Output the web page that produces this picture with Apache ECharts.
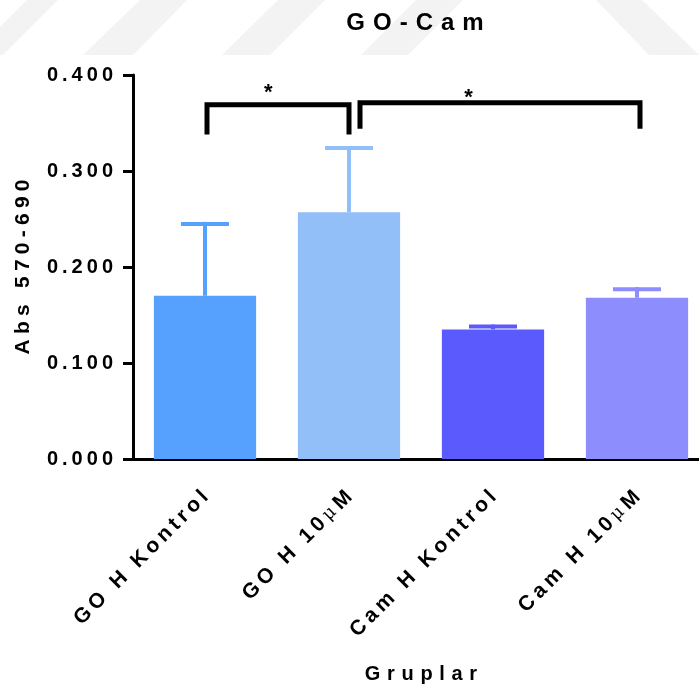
<!DOCTYPE html>
<html>
<head>
<meta charset="utf-8">
<script src="https://cdn.jsdelivr.net/npm/echarts@6/dist/echarts.min.js"></script>
<style>html,body{margin:0;padding:0;background:#fff}#c{width:699px;height:690px}</style>
</head>
<body>
<div id="c"></div>
<script>
// ---- data ----
var categories = ['GO H Kontrol', 'GO H 10\u03bcM', 'Cam H Kontrol', 'Cam H 10\u03bcM'];
var means = [0.170, 0.257, 0.135, 0.168];
var sems = [0.077, 0.069, 0.005, 0.011];
var barColors = ['#55A1FD', '#93BFF9', '#5A5AFD', '#8D8DFD'];
var yTicks = [0, 0.1, 0.2, 0.3, 0.4];
// significance brackets: [fromIndex, toIndex, topValue, bottomValue]
var brackets = [[0, 1, 0.369, 0.338], [1, 3, 0.371, 0.344]];
var bracketLabels = ['*', '*'];
var starValues = [0.381, 0.376];

function spaced(s, sep) {
  return s.split('').join(sep);
}
var SEP = '\u2009';
var FONT = '"Liberation Sans", Arial, sans-serif';

var chart = echarts.init(document.getElementById('c'), null, {renderer: 'canvas'});

var bracketOffsets = [[2, 0], [11, 3]];
var starFrac = [0.44, 0.83];

// faint background watermark stripes (decoration)
var wmFill = '#f3f3f3';
var wm = [
  [[27, 0], [58, 0], [3, 55], [0, 55], [0, 27]],
  [[140, 0], [187, 0], [133, 55], [83, 55]],
  [[278, 0], [325, 0], [270, 55], [222, 55]],
  [[416, 0], [463, 0], [408, 55], [361, 55]],
  [[596, 0], [642, 0], [699, 55], [649, 55]]
];

function catLabel(v) {
  return v.split('').map(function (ch) {
    return ch === '\u03bc' ? '{m|\u03bc}' : ch;
  }).join(SEP);
}

var option = {
  backgroundColor: '#fff',
  animation: false,
  graphic: wm.map(function (pts) {
    return {type: 'polygon', shape: {points: pts}, style: {fill: wmFill}, z: -10, silent: true};
  }),
  title: {
    text: spaced('GO-Cam', '\u2004'),
    left: 410,
    top: 6,
    textAlign: 'center',
    textStyle: {fontFamily: FONT, fontWeight: 'bold', fontSize: 24, color: '#000'}
  },
  grid: {left: 133, top: 75, width: 576, height: 384, containLabel: false, outerBoundsMode: 'none'},
  xAxis: {
    type: 'category',
    data: categories,
    axisLine: {lineStyle: {color: '#000', width: 3}},
    axisTick: {alignWithLabel: true, length: 10, lineStyle: {color: '#000', width: 3}},
    axisLabel: {
      rotate: 45, margin: 35, interval: 0,
      fontFamily: FONT, fontWeight: 'bold', fontSize: 21, color: '#000',
      formatter: catLabel,
      rich: {m: {fontFamily: '"DejaVu Serif", serif', fontWeight: 'normal', fontSize: 18, color: '#000'}}
    },
    name: spaced('Gruplar', '\u2004'),
    nameLocation: 'middle',
    nameGap: 205,
    nameTextStyle: {fontFamily: FONT, fontWeight: 'bold', fontSize: 20, color: '#000'}
  },
  yAxis: {
    type: 'value',
    min: yTicks[0], max: yTicks[yTicks.length - 1], interval: 0.1,
    splitLine: {show: false},
    axisLine: {show: true, lineStyle: {color: '#000', width: 3}},
    axisTick: {show: true, length: 10, lineStyle: {color: '#000', width: 3}},
    axisLabel: {
      margin: 20,
      fontFamily: FONT, fontWeight: 'bold', fontSize: 20, color: '#000',
      formatter: function (v) { return spaced(v.toFixed(3), SEP); }
    },
    name: spaced('Abs 570-690', '\u2005'),
    nameLocation: 'middle',
    nameRotate: 90,
    nameGap: 99,
    nameTextStyle: {fontFamily: FONT, fontWeight: 'bold', fontSize: 21, color: '#000'}
  },
  series: [
    {
      type: 'bar',
      barWidth: '71%',
      data: means.map(function (v, i) { return {value: v, itemStyle: {color: barColors[i]}}; }),
      z: 2
    },
    {
      type: 'custom',
      data: means.map(function (v, i) { return [i, v, sems[i]]; }),
      z: 3,
      renderItem: function (params, api) {
        var i = api.value(0);
        var p0 = api.coord([i, api.value(1)]);
        var p1 = api.coord([i, api.value(1) + api.value(2)]);
        var col = barColors[params.dataIndex];
        return {
          type: 'group',
          children: [
            {type: 'rect', shape: {x: p0[0] - 2, y: p1[1], width: 4, height: p0[1] - p1[1]}, style: {fill: col}},
            {type: 'rect', shape: {x: p0[0] - 24, y: p1[1], width: 48, height: 4}, style: {fill: col}}
          ]
        };
      }
    },
    {
      type: 'custom',
      data: brackets.map(function (b, i) { return [b[0], b[1], b[2], b[3], starValues[i]]; }),
      z: 4,
      renderItem: function (params, api) {
        var k = params.dataIndex;
        var a = api.coord([api.value(0), api.value(2)]);
        var b = api.coord([api.value(1), api.value(2)]);
        var bottom = api.coord([api.value(0), api.value(3)])[1];
        var x1 = a[0] + bracketOffsets[k][0];
        var x2 = b[0] + bracketOffsets[k][1];
        var band = api.size([1, 0])[0];
        var s = api.coord([api.value(0), api.value(4)]);
        return {
          type: 'group',
          children: [
            {type: 'polyline', shape: {points: [[x1, bottom], [x1, a[1]], [x2, a[1]], [x2, bottom]]},
             style: {stroke: '#000', lineWidth: 5, fill: null, lineJoin: 'miter', lineCap: 'butt'}},
            {type: 'text', style: {text: bracketLabels[k], x: a[0] + band * starFrac[k], y: s[1],
              textAlign: 'center', textVerticalAlign: 'middle',
              font: 'bold 22px ' + FONT, fill: '#000'}}
          ]
        };
      }
    }
  ]
};
chart.setOption(option);
</script>
</body>
</html>
